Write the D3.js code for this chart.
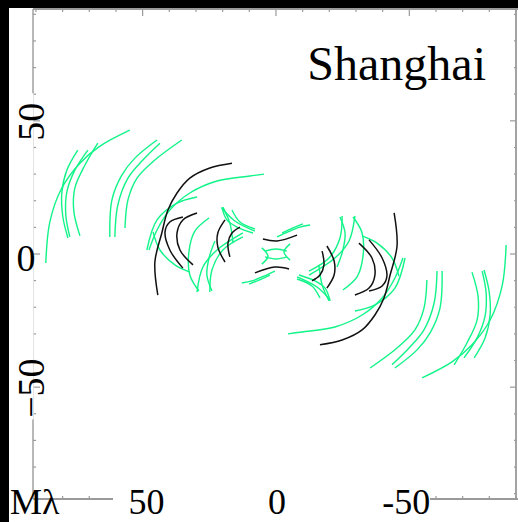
<!DOCTYPE html>
<html>
<head>
<meta charset="utf-8">
<script src="https://cdn.jsdelivr.net/npm/d3@7/dist/d3.min.js"></script>
<style>
  html, body { margin: 0; padding: 0; background: #fff; }
  svg { display: block; }
</style>
</head>
<body>
<svg id="chart" width="518" height="522"></svg>
<script>
// uv-coverage of the array, in Mλ. Each track is listed once; its
// conjugate (-u, -v) is drawn as well.
const stationName = "Shanghai";
const unitLabel = "Mλ";
const tickValues = d3.range(-90, 91, 10);
const bottomLabels = [{ v: 50, t: "50" }, { v: 0, t: "0" }, { v: -50, t: "-50" }];
const leftLabels = [{ v: 50, t: "50", rot: true }, { v: 0, t: "0", rot: false }, { v: -50, t: "\u221250", rot: true }];

// baselines to the named station
const blackTracks = [
  [[16.5,34.1],[24.8,32.3],[32.3,28.5],[37.1,22.9],[40.5,16.5],[42.8,7.9],[45.4,-3],[44.3,-15.4]],
  [[19.1,12.8],[21.8,7.9],[21.8,2.6],[19.1,-3]],
  [[13.5,10.1],[16.5,7.9],[18,4.1],[17.3,-1.1]],
  [[29.6,15.4],[34.9,12.8],[37.1,7.9],[36,1.5],[31.1,-4.1]],
  [[34.9,13.9],[39.8,12],[41.6,8.3],[39.8,1.5],[34.9,-5.3]],
  [[4.9,5.6],[-0.4,4.9],[-7.9,7.1]]
];

// all other baselines
const greenTracks = [
  [[86.3,-3.4],[84.8,12],[80.3,24.8],[73.5,34.1],[66,40.5],[54.8,46.5]],
  [[78,6],[79.9,13.9],[80.3,22.9],[78.4,31.5],[74.3,39]],
  [[73.5,6.8],[75.8,16.1],[75.4,24.8],[71.6,33.4],[66.8,41.6]],
  [[77.3,6.4],[78.8,14.6],[78.4,23.3],[75.4,31.5],[70.5,39]],
  [[62.3,6.4],[61.5,20.3],[57.8,29.6],[52.9,36],[44.6,42.8]],
  [[60.4,6.4],[59.3,18.4],[55.5,28.5],[49.9,35.3],[43.5,41.6]],
  [[56.6,9.8],[55.5,20.3],[52.1,28.5],[45.4,35.3],[35.3,42.8]],
  [[4.5,30],[9.8,29.3],[22.1,27.4],[32.3,22.9],[39.8,16.5],[44.6,9],[47.6,1.5]],
  [[48.4,1.5],[44.6,12.8],[37.1,19.1],[29.6,21.4]],
  [[46.1,8.3],[43.5,1.5],[37.9,-4.1],[32.3,-6.8]],
  [[29.6,-14.3],[27.4,-4.9],[22.1,1.5],[12.4,7.9]],
  [[24.8,-14.3],[24,-6],[19.9,1.5],[12.4,6.4]],
  [[24,-13.9],[25.9,-7.9],[25.1,-1.5],[22.9,4.9]],
  [[28.9,-13.9],[32.3,-7.9],[32.6,1.1],[30.4,8.6],[25.1,13.5]],
  [[7.9,8.6],[15.4,12.4],[20.3,17.3]],
  [[19.9,17.6],[17.3,11.6],[16.1,4.1]],
  [[20.3,17.6],[18.4,12.8],[14.6,10.1],[8.6,7.9]],
  [[16.5,16.5],[13.5,12],[7.9,9.4]],
  [[5.3,2.3],[3,-0.8],[5.3,-3.8]],
  [[4.1,1.1],[0,1.9],[-4.1,1.1]],
  [[-0.4,6.4],[-4.5,8.3],[-9,10.1],[-12.8,10.9]],
  [[-2.3,7.9],[-6.4,9.8],[-10.1,11.3]]
];

const svg = d3.select("#chart");
const W = 518, H = 522;

const x = d3.scaleLinear().domain([91.1, -90]).range([33, 516]);
const y = d3.scaleLinear().domain([92, -92]).range([9, 499]);

svg.append("rect").attr("width", W).attr("height", H).attr("fill", "#fff");

svg.append("defs").append("clipPath").attr("id", "plotClip")
  .append("rect")
  .attr("x", x.range()[0]).attr("y", y.range()[0])
  .attr("width", x.range()[1] - x.range()[0])
  .attr("height", y.range()[1] - y.range()[0]);

// tracks
const line = d3.line()
  .x(d => x(d[0]))
  .y(d => y(d[1]))
  .curve(d3.curveCatmullRom.alpha(0.5));

const withConjugates = tracks => tracks.flatMap(t => [t, t.map(p => [-p[0], -p[1]])]);

const plot = svg.append("g").attr("clip-path", "url(#plotClip)");
plot.selectAll("path.green")
  .data(withConjugates(greenTracks))
  .join("path")
  .attr("class", "green")
  .attr("d", line)
  .attr("fill", "none")
  .attr("stroke", "#10f488")
  .attr("stroke-width", 1.4);
plot.selectAll("path.black")
  .data(withConjugates(blackTracks))
  .join("path")
  .attr("class", "black")
  .attr("d", line)
  .attr("fill", "none")
  .attr("stroke", "#111")
  .attr("stroke-width", 1.5);

// frame and ticks
const axisColor = "#9a9a9a";
const frame = svg.append("g").attr("stroke", axisColor).attr("fill", "none");
const [x0, x1] = x.range();
const [y0, y1] = y.range();
frame.append("line").attr("x1", x0).attr("x2", W).attr("y1", y0).attr("y2", y0).attr("stroke-width", 1.8);
frame.append("line").attr("x1", x1).attr("x2", x1).attr("y1", y0).attr("y2", y1).attr("stroke-width", 1.8);
frame.append("line").attr("x1", x0).attr("x2", x0).attr("y1", y0).attr("y2", y1).attr("stroke-width", 1.4);
frame.append("line").attr("x1", x0).attr("x2", W).attr("y1", y1).attr("y2", y1).attr("stroke-width", 1.8);

const tlen = v => (v % 50 === 0 ? 7 : 3);
const ticks = svg.append("g").attr("stroke", axisColor).attr("stroke-width", 1.2);
tickValues.forEach(v => {
  ticks.append("line").attr("x1", x(v)).attr("x2", x(v)).attr("y1", y0).attr("y2", y0 + tlen(v));
  ticks.append("line").attr("x1", x(v)).attr("x2", x(v)).attr("y1", y1).attr("y2", y1 - tlen(v));
  ticks.append("line").attr("y1", y(v)).attr("y2", y(v)).attr("x1", x0).attr("x2", x0 + tlen(v));
  ticks.append("line").attr("y1", y(v)).attr("y2", y(v)).attr("x1", x1).attr("x2", x1 - tlen(v) + 1);
});

// white label backings that break the axis lines
svg.append("rect").attr("x", 113).attr("y", 487).attr("width", 430 - 113).attr("height", H - 487).attr("fill", "#fff");
svg.append("rect").attr("x", 9).attr("y", y(60) - 1).attr("width", x0 + 0.6 - 9).attr("height", y(-62.5) - y(60)).attr("fill", "#fff");

// dark page edges
svg.append("rect").attr("x", 0).attr("y", 0).attr("width", W).attr("height", 8).attr("fill", "#000");
svg.append("rect").attr("x", 0).attr("y", 0).attr("width", 9).attr("height", H).attr("fill", "#000");

const font = "'Liberation Serif', 'Times New Roman', serif";
const texts = svg.append("g").attr("font-family", font).attr("fill", "#000");
const labelSize = 36;
const bottomBase = 514;

texts.selectAll("text.bx")
  .data(bottomLabels)
  .join("text")
  .attr("class", "bx")
  .attr("x", d => x(d.v) + (d.v > 0 ? 4 : d.v < 0 ? -3 : 1))
  .attr("y", bottomBase)
  .attr("text-anchor", "middle")
  .attr("font-size", labelSize)
  .text(d => d.t);

texts.selectAll("text.ly")
  .data(leftLabels)
  .join("text")
  .attr("class", "ly")
  .attr("text-anchor", "middle")
  .attr("font-size", 38)
  .attr("transform", d => d.rot
    ? `translate(44,${y(d.v) + 1}) rotate(-90)`
    : `translate(26,${y(d.v) + 17})`)
  .text(d => d.t);

texts.append("text")
  .attr("x", 10).attr("y", bottomBase)
  .attr("font-size", labelSize)
  .text(unitLabel);

texts.append("text")
  .attr("x", 486).attr("y", 80)
  .attr("text-anchor", "end")
  .attr("font-size", 48)
  .text(stationName);
</script>
</body>
</html>
